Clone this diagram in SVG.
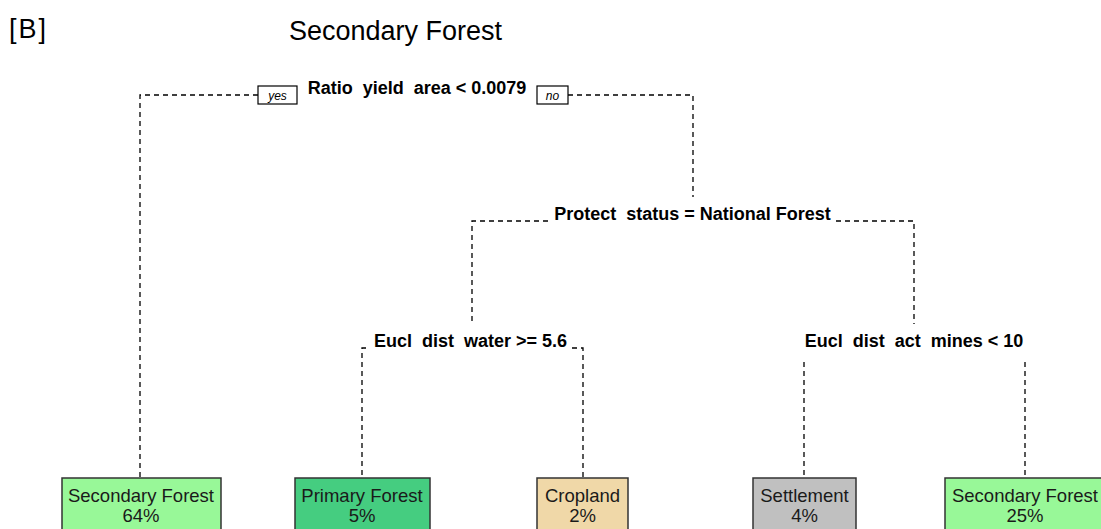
<svg xmlns="http://www.w3.org/2000/svg" width="1101" height="529" viewBox="0 0 1101 529">
  <style>
    .bg { fill: #ffffff; }
    .edge { fill: none; stroke: #000000; stroke-width: 1.3; stroke-dasharray: 5 4; }
    .split { font-family: "Liberation Sans", Arial, sans-serif; font-size: 18px; font-weight: bold; fill: #000000; white-space: pre; text-anchor: middle; }
    .leaf rect { stroke: #333333; stroke-width: 1.5; }
    .leaf text { font-family: "Liberation Sans", Arial, sans-serif; font-size: 18.5px; fill: #1a1a1a; text-anchor: middle; }
    .tag rect { fill: #ffffff; stroke: #000000; stroke-width: 1.2; }
    .tag text { font-family: "Liberation Sans", Arial, sans-serif; font-size: 12px; font-style: italic; fill: #000000; text-anchor: middle; }
    .title { font-family: "Liberation Sans", Arial, sans-serif; font-size: 27px; fill: #000000; }
  </style>
  <rect class="bg" x="0" y="0" width="1101" height="529"/>

  <text class="title" x="9" y="38" font-size="34" letter-spacing="2">[B]</text>
  <text class="title" x="289" y="40">Secondary Forest</text>

  <!-- connectors -->
  <g id="connectors">
    <path class="edge" d="M258 95 H140 V478"/>
    <path class="edge" d="M568 95 H693 V197"/>
    <path class="edge" d="M548 221 H472 V322"/>
    <path class="edge" d="M836 221 H914 V324"/>
    <path class="edge" d="M366 348 H362 V478"/>
    <path class="edge" d="M572 348 H583 V478"/>
    <path class="edge" d="M804 362 V478"/>
    <path class="edge" d="M1025 362 V478"/>
  </g>

  <!-- split nodes -->
  <g id="split-ratio">
    <text class="split" x="417" y="94">Ratio  yield  area &lt; 0.0079</text>
    <g class="tag">
      <rect x="258" y="86" width="39" height="18"/>
      <text x="277.5" y="100">yes</text>
    </g>
    <g class="tag">
      <rect x="537" y="86" width="31" height="18"/>
      <text x="552.5" y="100">no</text>
    </g>
  </g>
  <g id="split-protect">
    <text class="split" x="692.5" y="220">Protect  status = National Forest</text>
  </g>
  <g id="split-water">
    <text class="split" x="470.5" y="347">Eucl  dist  water &gt;= 5.6</text>
  </g>
  <g id="split-mines">
    <text class="split" x="914" y="347">Eucl  dist  act  mines &lt; 10</text>
  </g>

  <!-- leaf nodes -->
  <g id="leaf-secondary-1" class="leaf">
    <rect x="62" y="478" width="159" height="60" fill="#98f898"/>
    <text x="141" y="502">Secondary Forest</text>
    <text x="141" y="522">64%</text>
  </g>
  <g id="leaf-primary" class="leaf">
    <rect x="295" y="478" width="135" height="60" fill="#45cd80"/>
    <text x="362" y="502">Primary Forest</text>
    <text x="362" y="522">5%</text>
  </g>
  <g id="leaf-cropland" class="leaf">
    <rect x="537" y="478" width="91" height="60" fill="#f0d8a8"/>
    <text x="582.5" y="502">Cropland</text>
    <text x="582.5" y="522">2%</text>
  </g>
  <g id="leaf-settlement" class="leaf">
    <rect x="753" y="478" width="103" height="60" fill="#c0c0c0"/>
    <text x="804.5" y="502">Settlement</text>
    <text x="804.5" y="522">4%</text>
  </g>
  <g id="leaf-secondary-2" class="leaf">
    <rect x="945" y="478" width="162" height="60" fill="#98f898"/>
    <text x="1025" y="502">Secondary Forest</text>
    <text x="1025" y="522">25%</text>
  </g>
</svg>
